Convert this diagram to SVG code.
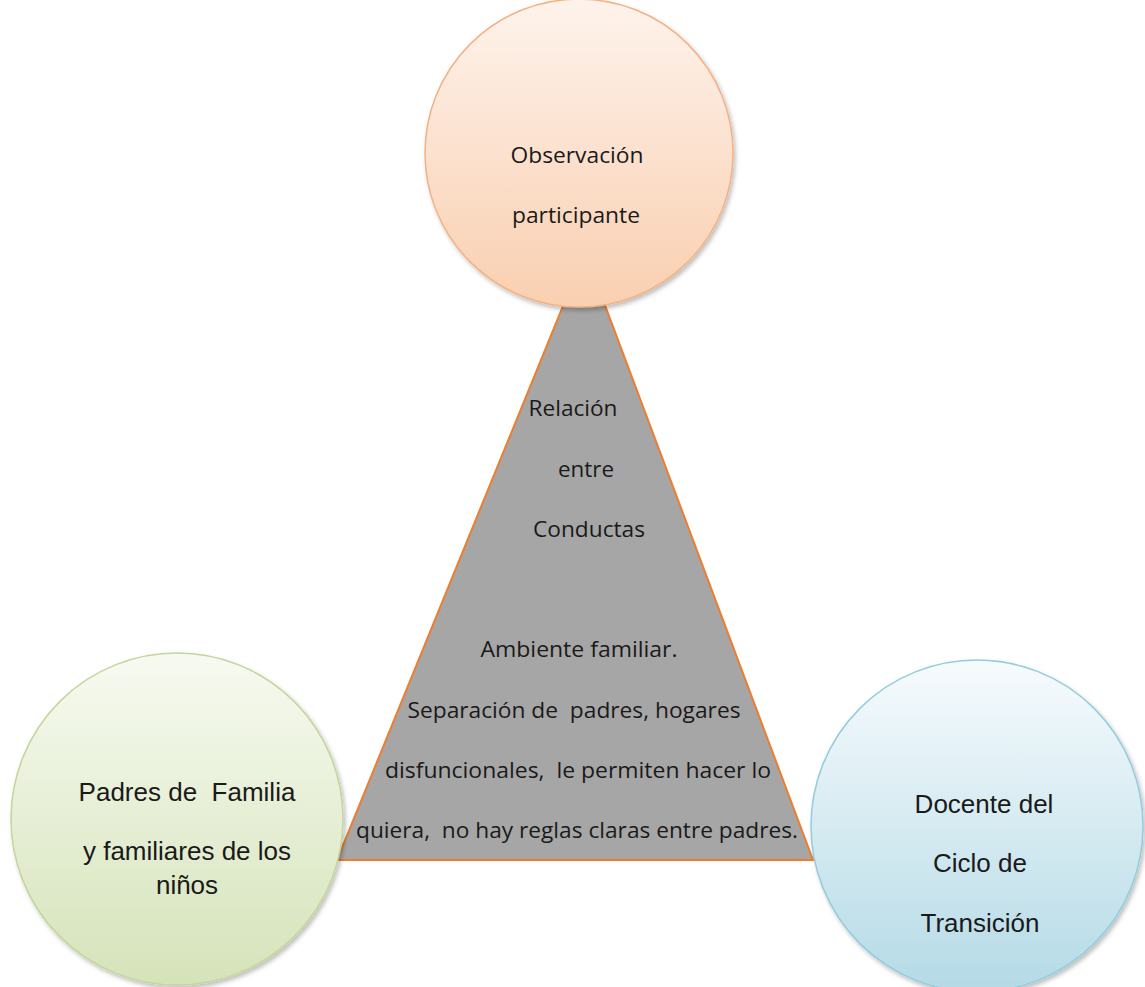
<svg xmlns="http://www.w3.org/2000/svg" width="1145" height="987" viewBox="0 0 1145 987">
<style>
.tri{fill:#a6a6a6;stroke:#ed7d31;stroke-width:2}
.cal{font-family:"Open Sans","Noto Sans",sans-serif;font-size:21px;fill:#1a1a1a;text-anchor:middle}
.ari{font-family:"Liberation Sans",Arial,sans-serif;font-size:26px;fill:#1a1a1a;text-anchor:middle}
</style>
<defs>
<linearGradient id="gOrange" x1="0" y1="0" x2="0" y2="1">
<stop offset="0" stop-color="#fef3ec"/><stop offset="1" stop-color="#f9cfb0"/>
</linearGradient>
<linearGradient id="gGreen" x1="0" y1="0" x2="0" y2="1">
<stop offset="0" stop-color="#f7faf1"/><stop offset="1" stop-color="#d5e3b9"/>
</linearGradient>
<linearGradient id="gBlue" x1="0" y1="0" x2="0" y2="1">
<stop offset="0" stop-color="#f7fbfd"/><stop offset="1" stop-color="#b4dae6"/>
</linearGradient>
<filter id="sh" x="-10%" y="-10%" width="125%" height="125%">
<feDropShadow dx="2" dy="3" stdDeviation="2" flood-color="#000" flood-opacity="0.25"/>
</filter>
</defs>
<rect width="1145" height="987" fill="#ffffff"/>
<g id="connectors">
<polygon id="triangle" class="tri" points="585,252 813,860 337,860"/>
</g>
<g id="triangle-text">
<text class="cal" x="573" y="416" textLength="89" lengthAdjust="spacingAndGlyphs">Relación</text>
<text class="cal" x="586" y="477" textLength="56" lengthAdjust="spacingAndGlyphs">entre</text>
<text class="cal" x="589" y="537" textLength="112" lengthAdjust="spacingAndGlyphs">Conductas</text>
<text class="cal" x="579" y="657" textLength="197" lengthAdjust="spacingAndGlyphs">Ambiente familiar.</text>
<text class="cal" x="574" y="718" textLength="333" lengthAdjust="spacingAndGlyphs" xml:space="preserve">Separación de  padres, hogares</text>
<text class="cal" x="578" y="778" textLength="386" lengthAdjust="spacingAndGlyphs" xml:space="preserve">disfuncionales,  le permiten hacer lo</text>
<text class="cal" x="577" y="838" textLength="442" lengthAdjust="spacingAndGlyphs" xml:space="preserve">quiera,  no hay reglas claras entre padres.</text>
</g>
<g id="node-observacion">
<circle cx="579" cy="153" r="154" fill="url(#gOrange)" stroke="#f4b183" stroke-width="1.5" filter="url(#sh)"/>
<text class="cal" x="577" y="163" font-size="22" textLength="133" lengthAdjust="spacingAndGlyphs">Observación</text>
<text class="cal" x="576" y="223" font-size="22" textLength="128" lengthAdjust="spacingAndGlyphs">participante</text>
</g>
<g id="node-padres">
<circle cx="177" cy="819" r="166" fill="url(#gGreen)" stroke="#c3d69b" stroke-width="1.5" filter="url(#sh)"/>
<text class="ari" x="187" y="801" xml:space="preserve">Padres de  Familia</text>
<text class="ari" x="187" y="860">y familiares de los</text>
<text class="ari" x="187" y="894">niños</text>
</g>
<g id="node-docente">
<circle cx="977" cy="826" r="166" fill="url(#gBlue)" stroke="#93cddd" stroke-width="1.5" filter="url(#sh)"/>
<text class="ari" x="984" y="813">Docente del</text>
<text class="ari" x="980" y="872">Ciclo de</text>
<text class="ari" x="980" y="932">Transición</text>
</g>
</svg>
